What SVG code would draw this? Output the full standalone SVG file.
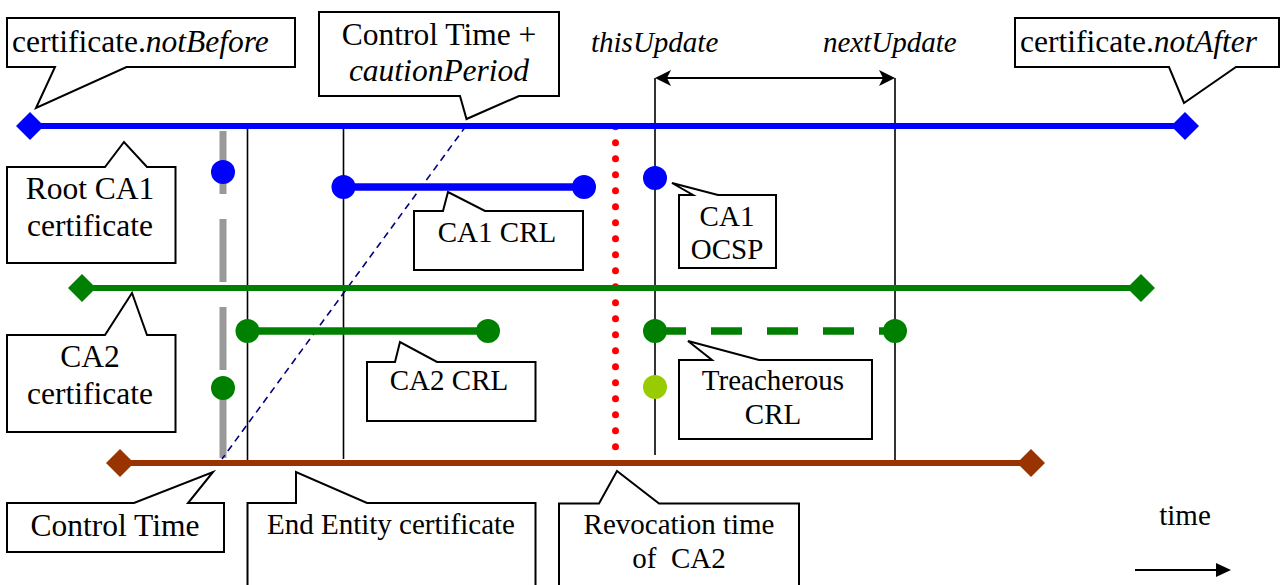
<svg xmlns="http://www.w3.org/2000/svg" width="1281" height="585" viewBox="0 0 1281 585">
<style>
.lbl{font-family:"Liberation Serif","Times New Roman",serif;fill:#000;}
.big{font-size:31.5px;}
.sm{font-size:29px;}
.it{font-style:italic;}
.mid{text-anchor:middle;}
.callout{fill:#fff;stroke:#000;stroke-width:2;stroke-linejoin:miter;}
.vline{stroke:#000;stroke-width:1.6;fill:none;}
.blue{fill:#0000FF;}
.green{fill:#008000;}
.brown{fill:#993300;}
</style>
<rect width="1281" height="585" fill="#fff"/>

<g id="connectors">
  <!-- revocation dotted line -->
  <line x1="615.5" y1="126.7" x2="615.5" y2="447" stroke="#FF0000" stroke-width="7" stroke-linecap="round" stroke-dasharray="0 16"/>
  <!-- gray control time dashed line -->
  <line x1="223" y1="131" x2="223" y2="458" stroke="#999999" stroke-width="7" stroke-dasharray="63 25"/>
  <!-- vertical time markers -->
  <line class="vline" x1="247.5" y1="126" x2="247.5" y2="463"/>
  <line class="vline" x1="343.5" y1="126" x2="343.5" y2="459"/>
  <line class="vline" x1="655" y1="78" x2="655" y2="455"/>
  <line class="vline" x1="895" y1="78" x2="895" y2="463"/>
  <!-- caution period diagonal -->
  <line x1="466" y1="126" x2="222" y2="459" stroke="#000080" stroke-width="1.6" stroke-dasharray="7 5"/>
  <!-- thisUpdate/nextUpdate double arrow -->
  <line x1="662" y1="78" x2="888" y2="78" stroke="#000" stroke-width="2"/>
  <path d="M655,78 L671,70 L667,78 L671,86 Z" fill="#000"/>
  <path d="M895,78 L879,70 L883,78 L879,86 Z" fill="#000"/>
  <!-- time arrow -->
  <line x1="1135" y1="570" x2="1218" y2="570" stroke="#000" stroke-width="2"/>
  <path d="M1231,570 L1216,563 L1216,577 Z" fill="#000"/>
</g>

<g id="timeline-root-ca1">
  <line x1="30" y1="126" x2="1185" y2="126" stroke="#0000FF" stroke-width="6"/>
  <path class="blue" d="M16,126 L30,112 L44,126 L30,140 Z"/>
  <path class="blue" d="M1171,126 L1185,112 L1199,126 L1185,140 Z"/>
</g>
<g id="timeline-ca2">
  <line x1="82" y1="288" x2="1141" y2="288" stroke="#008000" stroke-width="6"/>
  <path class="green" d="M68,288 L82,274 L96,288 L82,302 Z"/>
  <path class="green" d="M1127,288 L1141,274 L1155,288 L1141,302 Z"/>
</g>
<g id="timeline-ee">
  <line x1="120" y1="463" x2="1031" y2="463" stroke="#993300" stroke-width="6"/>
  <path class="brown" d="M106,463 L120,449 L134,463 L120,477 Z"/>
  <path class="brown" d="M1017,463 L1031,449 L1045,463 L1031,477 Z"/>
</g>

<g id="ca1-crl-bar">
  <line x1="343.5" y1="187" x2="584" y2="187" stroke="#0000FF" stroke-width="7.5"/>
  <circle class="blue" cx="343.5" cy="187" r="12"/>
  <circle class="blue" cx="584" cy="187" r="12"/>
</g>
<g id="ca2-crl-bar">
  <line x1="247.5" y1="331" x2="488" y2="331" stroke="#008000" stroke-width="7.5"/>
  <circle class="green" cx="247.5" cy="331" r="12"/>
  <circle class="green" cx="488" cy="331" r="12"/>
</g>
<g id="treacherous-crl-bar">
  <line x1="655" y1="331" x2="895" y2="331" stroke="#008000" stroke-width="7.5" stroke-dasharray="31 25"/>
  <circle class="green" cx="655" cy="331" r="12"/>
  <circle class="green" cx="895" cy="331" r="12"/>
</g>
<g id="points">
  <circle class="blue" cx="223" cy="172" r="12"/>
  <circle class="green" cx="223" cy="388" r="12"/>
  <circle class="blue" cx="655" cy="178" r="12"/>
  <circle cx="655" cy="387" r="12" fill="#99CC00"/>
</g>

<g id="node-notbefore">
  <path class="callout" d="M7,18 H295 V67 H126.5 L36,108 L55,67 H7 Z"/>
  <text class="lbl big" x="12" y="52">certificate.<tspan class="it">notBefore</tspan></text>
</g>
<g id="node-caution">
  <path class="callout" d="M319,12 H559 V96 H519 L466.5,119 L460,96 H319 Z"/>
  <text class="lbl big mid" x="439" y="45">Control Time +</text>
  <text class="lbl big mid it" x="439" y="81">cautionPeriod</text>
</g>
<g id="node-thisupdate">
  <text class="lbl sm it" x="591" y="51.5">thisUpdate</text>
</g>
<g id="node-nextupdate">
  <text class="lbl sm it" x="823" y="51.5">nextUpdate</text>
</g>
<g id="node-notafter">
  <path class="callout" d="M1015,18 H1279 V67 H1236 L1184,103 L1169,67 H1015 Z"/>
  <text class="lbl big" x="1020" y="51.5">certificate.<tspan class="it">notAfter</tspan></text>
</g>
<g id="node-root-ca1">
  <path class="callout" d="M7,167 H105 L124,142 L147,167 H175.5 V263 H7 Z"/>
  <text class="lbl big mid" x="90" y="199">Root CA1</text>
  <text class="lbl big mid" x="90" y="236">certificate</text>
</g>
<g id="node-ca1-crl">
  <path class="callout" d="M414,211 H443 L448,192 L485,211 H583 V270 H414 Z"/>
  <text class="lbl sm mid" x="497" y="241.5">CA1 CRL</text>
</g>
<g id="node-ca1-ocsp">
  <path class="callout" d="M679,195 H693 L672,183 L718,195 H776 V268 H679 Z"/>
  <text class="lbl sm mid" x="727" y="225.5">CA1</text>
  <text class="lbl sm mid" x="727" y="259">OCSP</text>
</g>
<g id="node-ca2">
  <path class="callout" d="M7,335 H105 L132,293 L147,335 H175.5 V432 H7 Z"/>
  <text class="lbl big mid" x="90" y="367">CA2</text>
  <text class="lbl big mid" x="90" y="404">certificate</text>
</g>
<g id="node-ca2-crl">
  <path class="callout" d="M367,362 H395 L400,342 L437,362 H535.5 V421 H367 Z"/>
  <text class="lbl sm mid" x="449" y="390">CA2 CRL</text>
</g>
<g id="node-treacherous">
  <path class="callout" d="M679,360 H712 L688,341 L759,360 H872 V439 H679 Z"/>
  <text class="lbl sm mid" x="773" y="390">Treacherous</text>
  <text class="lbl sm mid" x="773" y="424">CRL</text>
</g>
<g id="node-control-time">
  <path class="callout" d="M7,503 H134 L213,472 L188,503 H224 V552 H7 Z"/>
  <text class="lbl big mid" x="115" y="536">Control Time</text>
</g>
<g id="node-end-entity">
  <path class="callout" d="M247.5,600 V503 H296 L296,472 L367,503 H535.5 V600 Z"/>
  <text class="lbl sm mid" x="391" y="533.5">End Entity certificate</text>
</g>
<g id="node-revocation">
  <path class="callout" d="M559,600 V503.5 H599 L617,471 L659,503.5 H799 V600 Z"/>
  <text class="lbl sm mid" x="679" y="533.5">Revocation time</text>
  <text class="lbl sm mid" x="679" y="568" xml:space="preserve">of  CA2</text>
</g>
<g id="node-time">
  <text class="lbl sm mid" x="1185" y="525">time</text>
</g>
</svg>
